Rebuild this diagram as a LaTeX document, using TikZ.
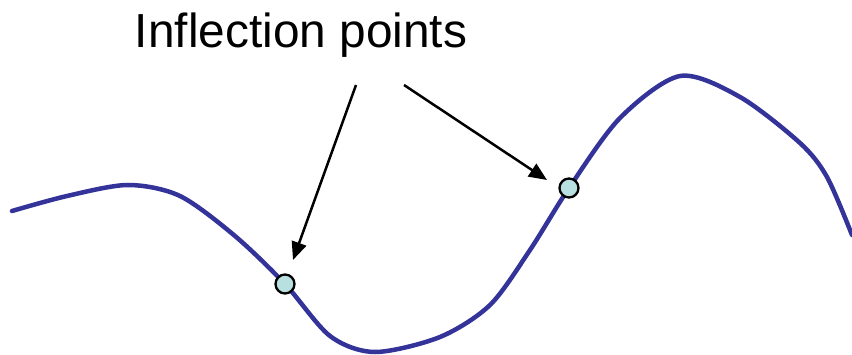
\documentclass[tikz,border=0pt]{standalone}
\usepackage{fontspec}
\setmainfont{Liberation Sans}
\usetikzlibrary{arrows.meta}
\definecolor{curveblue}{RGB}{51,51,153}
\definecolor{ptfill}{RGB}{185,224,224}
\begin{document}
\begin{tikzpicture}[x=1pt,y=-1pt,
  curvestyle/.style={draw=curveblue,line width=4.5pt,line cap=round},
  ptstyle/.style={circle,draw=black,fill=ptfill,line width=2.3pt,minimum size=19pt,inner sep=0pt},
  pointer/.style={draw=black,line width=2.5pt,-{Triangle[length=18pt,width=15pt]}},
  labelstyle/.style={font=\fontsize{47.8}{50}\selectfont,inner sep=0pt,anchor=base}]
\useasboundingbox (0,0) rectangle (852,355);
\draw[curvestyle] plot[smooth,tension=0.5] coordinates {
 (12,211) (67,196) (128,185) (180,196) (235,236)
 (285,284) (330,336) (375,352) (440,337) (490,305) (530,250) (569,188)
 (620,118) (680,76) (740,97) (800,143) (827,177) (852,235)};
\node[ptstyle] (p1) at (285,284) {};
\node[ptstyle] (p2) at (569,188) {};
\node[labelstyle] (lbl) at (301,48) {Inflection points};
\coordinate (t1) at (356,85);
\coordinate (h1) at (293,260);
\coordinate (t2) at (404,85);
\coordinate (h2) at (547,180);
\draw[pointer] (t1) -- (h1);
\draw[pointer] (t2) -- (h2);
\end{tikzpicture}
\end{document}
